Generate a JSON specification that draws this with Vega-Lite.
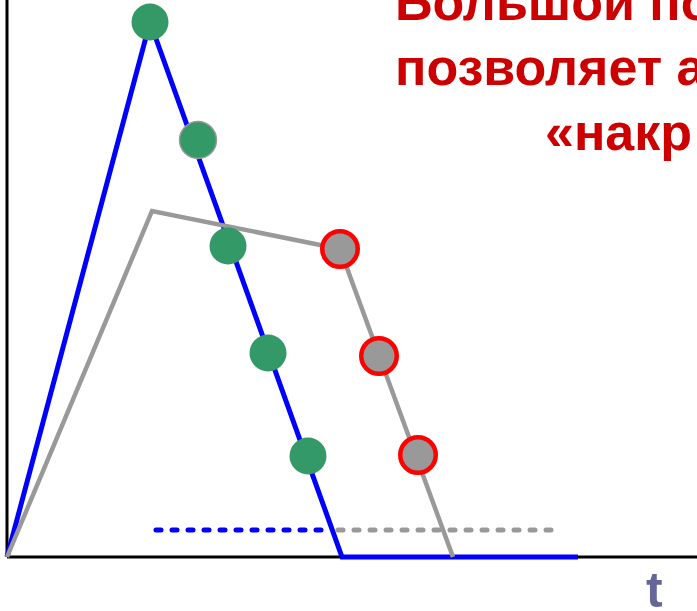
{
  "$schema": "https://vega.github.io/schema/vega-lite/v6.json",
  "width": 697,
  "height": 611,
  "autosize": {"type": "none"},
  "padding": 0,
  "background": "white",
  "config": {"view": {"stroke": null}},
  "datasets": {
    "axes": [
      {"x": 0, "y": 0, "x2": 690, "y2": 0},
      {"x": 0, "y": 0, "x2": 0, "y2": 560}
    ],
    "blue": [
      {"o": 1, "t": 0, "v": 0},
      {"o": 2, "t": 143, "v": 535},
      {"o": 3, "t": 335, "v": 0},
      {"o": 4, "t": 571, "v": 0}
    ],
    "gray": [
      {"o": 1, "t": 0, "v": 0},
      {"o": 2, "t": 145, "v": 346},
      {"o": 3, "t": 333, "v": 308},
      {"o": 4, "t": 446, "v": 0}
    ],
    "thresholds": [
      {"series": "blue", "t": 149, "t2": 323, "v": 27},
      {"series": "gray", "t": 331, "t2": 546, "v": 27}
    ],
    "greenPts": [
      {"id": 1, "t": 143, "v": 535},
      {"id": 2, "t": 191, "v": 417},
      {"id": 3, "t": 221, "v": 311},
      {"id": 4, "t": 261, "v": 204},
      {"id": 5, "t": 301, "v": 101}
    ],
    "grayPts": [
      {"id": 1, "t": 333, "v": 308},
      {"id": 2, "t": 372, "v": 201},
      {"id": 3, "t": 411, "v": 102}
    ],
    "title": [
      {"t": 388, "v": 537, "txt": "Большой порог"},
      {"t": 388, "v": 472, "txt": "позволяет алгоритму"},
      {"t": 538, "v": 407, "txt": "«накр"}
    ],
    "axisLabel": [
      {"t": 639, "v": -50, "txt": "t"}
    ]
  },
  "layer": [
    {
      "data": {"name": "axes"},
      "mark": {"type": "rule", "color": "black", "strokeWidth": 3},
      "encoding": {
        "x": {"field": "x", "type": "quantitative", "scale": {"domain": [-7, 690]}, "axis": null},
        "y": {"field": "y", "type": "quantitative", "scale": {"domain": [-54, 557]}, "axis": null},
        "x2": {"field": "x2"},
        "y2": {"field": "y2"}
      }
    },
    {
      "data": {"name": "blue"},
      "mark": {"type": "line", "color": "#0000ff", "strokeWidth": 5, "strokeJoin": "miter", "clip": false},
      "encoding": {
        "x": {"field": "t", "type": "quantitative", "scale": {"domain": [-7, 690]}, "axis": null},
        "y": {"field": "v", "type": "quantitative", "scale": {"domain": [-54, 557]}, "axis": null},
        "order": {"field": "o"}
      }
    },
    {
      "data": {"name": "gray"},
      "mark": {"type": "line", "color": "#999999", "strokeWidth": 4.5, "strokeJoin": "miter"},
      "encoding": {
        "x": {"field": "t", "type": "quantitative", "scale": {"domain": [-7, 690]}, "axis": null},
        "y": {"field": "v", "type": "quantitative", "scale": {"domain": [-54, 557]}, "axis": null},
        "order": {"field": "o"}
      }
    },
    {
      "data": {"name": "thresholds"},
      "mark": {"type": "rule", "strokeWidth": 5, "strokeDash": [5, 11], "strokeCap": "round"},
      "encoding": {
        "x": {"field": "t", "type": "quantitative", "scale": {"domain": [-7, 690]}, "axis": null},
        "x2": {"field": "t2"},
        "y": {"field": "v", "type": "quantitative", "scale": {"domain": [-54, 557]}, "axis": null},
        "color": {"field": "series", "type": "nominal", "scale": {"domain": ["blue", "gray"], "range": ["#0000ff", "#999999"]}, "legend": null}
      }
    },
    {
      "data": {"name": "greenPts"},
      "mark": {"type": "point", "shape": "circle", "filled": true, "size": 1369, "fill": "#339966", "opacity": 1, "strokeWidth": 1.5},
      "encoding": {
        "x": {"field": "t", "type": "quantitative", "scale": {"domain": [-7, 690]}, "axis": null},
        "y": {"field": "v", "type": "quantitative", "scale": {"domain": [-54, 557]}, "axis": null},
        "stroke": {"condition": {"test": "datum.id == 2", "value": "#999999"}, "value": null}
      }
    },
    {
      "data": {"name": "grayPts"},
      "mark": {"type": "point", "shape": "circle", "filled": true, "size": 1260, "fill": "#999999", "stroke": "#ff0000", "strokeWidth": 4.5, "opacity": 1},
      "encoding": {
        "x": {"field": "t", "type": "quantitative", "scale": {"domain": [-7, 690]}, "axis": null},
        "y": {"field": "v", "type": "quantitative", "scale": {"domain": [-54, 557]}, "axis": null}
      }
    },
    {
      "data": {"name": "title"},
      "mark": {"type": "text", "font": "Liberation Sans", "fontWeight": "bold", "fontSize": 52, "color": "#cc0000", "align": "left", "baseline": "alphabetic"},
      "encoding": {
        "x": {"field": "t", "type": "quantitative", "scale": {"domain": [-7, 690]}, "axis": null},
        "y": {"field": "v", "type": "quantitative", "scale": {"domain": [-54, 557]}, "axis": null},
        "text": {"field": "txt"}
      }
    },
    {
      "data": {"name": "axisLabel"},
      "mark": {"type": "text", "font": "Liberation Sans", "fontWeight": "bold", "fontSize": 50, "color": "#666699", "align": "left", "baseline": "alphabetic"},
      "encoding": {
        "x": {"field": "t", "type": "quantitative", "scale": {"domain": [-7, 690]}, "axis": null},
        "y": {"field": "v", "type": "quantitative", "scale": {"domain": [-54, 557]}, "axis": null},
        "text": {"field": "txt"}
      }
    }
  ]
}
